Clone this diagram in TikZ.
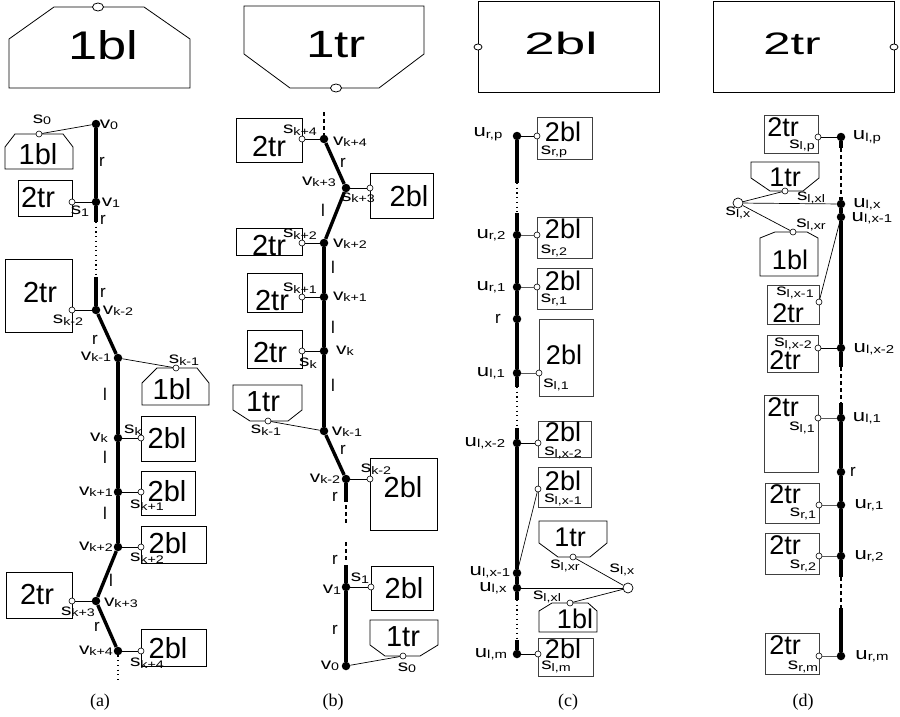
\documentclass[tikz,border=0pt]{standalone}
\usepackage{fontspec}
\setmainfont{Liberation Sans}
\newfontfamily\capfont{Liberation Serif}
\usetikzlibrary{shapes.geometric}
\newcommand\sx[2]{\scalebox{#1}[1]{#2}}
\newcommand\lb[2]{\sx{1.3}{{\fontsize{16}{16}\selectfont #1}{\fontsize{11}{11}\selectfont\raisebox{-1.5pt}{#2}}}}
\newcommand\lbu[2]{\sx{1.3}{{\fontsize{17}{17}\selectfont #1}{\fontsize{11.5}{11.5}\selectfont\raisebox{-1.5pt}{#2}}}}
\begin{document}
\begin{tikzpicture}[x=1pt,y=-1pt,
  dot/.style={circle,fill=black,inner sep=0pt,minimum size=8.5pt},
  port/.style={circle,draw,fill=white,inner sep=0pt,minimum size=6pt,line width=0.6pt},
  bport/.style={circle,draw,fill=white,inner sep=0pt,minimum size=10pt,line width=0.7pt},
  tport/.style={ellipse,draw,fill=white,inner sep=0pt,minimum width=11pt,minimum height=8pt,line width=0.8pt},
  ax/.style={line width=3.4pt},
  cn/.style={line width=0.7pt},
  gcn/.style={line width=0.8pt,black!65},
  shp/.style={line width=0.8pt},
  gshp/.style={line width=0.8pt,black!75},
  dotl/.style={line width=1.2pt,dash pattern=on 1.2pt off 3.5pt},
  dashl/.style={line width=1.2pt,dash pattern=on 4pt off 3pt},
  txa/.style={font=\fontsize{29}{29}\selectfont,inner sep=0pt},
  txc/.style={font=\fontsize{27}{27}\selectfont,inner sep=0pt},
  lab/.style={inner sep=0pt},
  rl/.style={font=\fontsize{17}{17}\selectfont,inner sep=0pt},
  captxt/.style={font=\capfont\fontsize{18}{18}\selectfont,inner sep=0pt}
]
\fill[white] (0,0) rectangle (900,717);
\useasboundingbox (0,0) rectangle (900,717);

% ---------------- top row ----------------
\draw[shp] (9,88) -- (9,39) -- (54,7) -- (144,7) -- (190,39) -- (190,88) -- cycle;
\node[tport] (T1p) at (98,7) {};
\node[inner sep=0pt,font=\fontsize{40}{40}\selectfont] (T1t) at (103,45) {\sx{1.31}{1bl}};
\draw[shp] (244,6) -- (424,6) -- (424,54) -- (379,88) -- (290,88) -- (244,54) -- cycle;
\node[tport] (T2p) at (336,88) {};
\node[inner sep=0pt,font=\fontsize{38}{38}\selectfont] (T2t) at (336,45) {\sx{1.35}{1tr}};
\draw[shp] (478,1) rectangle (659,92);
\node[tport,minimum width=8pt,minimum height=6pt] (T3p) at (478,47) {};
\node[inner sep=0pt,font=\fontsize{31}{31}\selectfont] (T3t) at (561,43) {\sx{1.77}{2bl}};
\draw[shp] (713,1) rectangle (894,92);
\node[tport,minimum width=8pt,minimum height=6pt] (T4p) at (894,47) {};
\node[inner sep=0pt,font=\fontsize{31}{31}\selectfont] (T4t) at (792,44) {\sx{1.58}{2tr}};

% ---------------- column (a) ----------------
\node[dot] (a0) at (96,124) {};
\node[dot] (a1) at (96,202) {};
\coordinate (a1e) at (96,222);
\coordinate (a2s) at (96,277);
\node[dot] (ak2) at (96,310) {};
\node[dot] (ak1) at (118,358) {};
\node[dot] (ak) at (118,438) {};
\node[dot] (akp1) at (118,492) {};
\node[dot] (akp2) at (118,547) {};
\node[dot] (akp3) at (96,601) {};
\node[dot] (akp4) at (118,651) {};
\coordinate (aend) at (118,680);
\draw[ax] (a0) -- (a1);
\draw[ax] (a1) -- (a1e);
\draw[dotl] (a1e) -- (a2s);
\draw[ax] (a2s) -- (ak2);
\draw[ax] (ak2) -- (ak1);
\draw[ax] (ak1) -- (ak);
\draw[ax] (ak) -- (akp1);
\draw[ax] (akp1) -- (akp2);
\draw[ax] (akp2) -- (akp3);
\draw[ax] (akp3) -- (akp4);
\draw[dotl] (akp4) -- (aend);

% s0 / 1bl
\draw[shp] (5,169) -- (5,147) -- (15,134) -- (63,134) -- (73,147) -- (73,169) -- cycle;
\node[txa] (at0) at (38,154) {1bl};
\node[port] (as0) at (39,134) {};
\draw[cn] (as0) -- (a0);
\node[lab] (ls0) at (42,120) {\lb{s}{0}};
\node[lab] (lv0) at (109,125) {\lb{v}{0}};
\node[rl] (lr1) at (102,162) {r};
% s1 / 2tr
\draw[shp] (18,180) rectangle (72,216);
\node[txa] (at1) at (38,197) {2tr};
\node[port] (as1) at (72,202) {};
\draw[cn] (as1) -- (a1);
\node[lab] (ls1) at (80,211) {\lb{s}{1}};
\node[lab] (lv1) at (111,203) {\lb{v}{1}};
\node[rl] (lr2) at (103,220) {r};
\node[rl] (lr3) at (103,293) {r};
% sk-2 / 2tr
\draw[shp] (5,259) rectangle (72,332);
\node[txa] (atk2) at (40,292) {2tr};
\node[port] (ask2) at (72,310) {};
\draw[cn] (ask2) -- (ak2);
\node[lab] (lsk2) at (68,320) {\lb{s}{k-2}};
\node[lab] (lvk2) at (118,311) {\lb{v}{k-2}};
\node[rl] (lr4) at (95,340) {r};
% sk-1 / 1bl
\node[lab] (lvk1) at (96,357) {\lb{v}{k-1}};
\draw[shp] (142,405) -- (142,383) -- (157,368) -- (197,368) -- (209,383) -- (209,405) -- cycle;
\node[txa] (atk1) at (172,389) {1bl};
\node[port] (ask1) at (176,368) {};
\draw[cn] (ask1) -- (ak1);
\node[lab] (lsk1) at (184,360) {\lb{s}{k-1}};
\node[rl] (ll1) at (105,394) {l};
% sk / 2bl
\node[lab] (lvk) at (99,438) {\lb{v}{k}};
\node[lab] (lsk) at (133,430) {\lb{s}{k}};
\draw[shp] (141,416) rectangle (195,461);
\node[txa] (atk) at (167,438) {2bl};
\node[port] (ask) at (141,438) {};
\draw[cn] (ask) -- (ak);
\node[rl] (ll2) at (105,457) {l};
% sk+1
\node[lab] (lvkp1) at (96,492) {\lb{v}{k+1}};
\draw[shp] (141,471) rectangle (195,515);
\node[txa] (atkp1) at (167,491) {2bl};
\node[port] (askp1) at (141,492) {};
\draw[cn] (askp1) -- (akp1);
\node[lab] (lskp1) at (147,505) {\lb{s}{k+1}};
\node[rl] (ll3) at (105,513) {l};
% sk+2
\node[lab] (lvkp2) at (96,547) {\lb{v}{k+2}};
\draw[shp] (141,526) rectangle (206,563);
\node[txa] (atkp2) at (168,543) {2bl};
\node[port] (askp2) at (141,547) {};
\draw[cn] (askp2) -- (akp2);
\node[lab] (lskp2) at (147,558) {\lb{s}{k+2}};
\node[rl] (ll4) at (111,580) {l};
% sk+3
\node[lab] (lvkp3) at (121,603) {\lb{v}{k+3}};
\draw[shp] (6,572) rectangle (72,618);
\node[txa] (atkp3) at (37,594) {2tr};
\node[port] (askp3) at (72,601) {};
\draw[cn] (askp3) -- (akp3);
\node[lab] (lskp3) at (78,612) {\lb{s}{k+3}};
\node[rl] (lr5) at (97,627) {r};
% sk+4
\node[lab] (lvkp4) at (96,651) {\lb{v}{k+4}};
\draw[shp] (141,629) rectangle (206,666);
\node[txa] (atkp4) at (168,648) {2bl};
\node[port] (askp4) at (141,651) {};
\draw[cn] (askp4) -- (akp4);
\node[lab] (lskp4) at (147,663) {\lb{s}{k+4}};
\node[captxt] (capa) at (100,702) {(a)};

% ---------------- column (b) ----------------
\coordinate (btop) at (324,112);
\node[dot] (bk4) at (324,139) {};
\node[dot] (bk3) at (346,188) {};
\node[dot] (bk2) at (324,243) {};
\node[dot] (bk1) at (324,297) {};
\node[dot] (bk) at (324,351) {};
\node[dot] (bkm1) at (324,431) {};
\node[dot] (bkm2) at (346,479) {};
\coordinate (bm2e) at (346,502);
\coordinate (bd1s) at (346,505);
\coordinate (bd1e) at (346,524);
\coordinate (bd2s) at (346,542);
\coordinate (bd2e) at (346,560);
\coordinate (b1s) at (346,565);
\node[dot] (b1) at (346,587) {};
\node[dot] (b0) at (346,666) {};
\draw[dashl] (btop) -- (bk4);
\draw[ax] (bk4) -- (bk3);
\draw[ax] (bk3) -- (bk2);
\draw[ax] (bk2) -- (bk1);
\draw[ax] (bk1) -- (bk);
\draw[ax] (bk) -- (bkm1);
\draw[ax] (bkm1) -- (bkm2);
\draw[ax] (bkm2) -- (bm2e);
\draw[dashl] (bd1s) -- (bd1e);
\draw[dashl] (bd2s) -- (bd2e);
\draw[ax] (b1s) -- (b1);
\draw[ax] (b1) -- (b0);

% sk+4
\draw[shp] (236,118) rectangle (302,162);
\node[txa] (btk4) at (269,146) {2tr};
\node[port] (bsk4) at (302,139) {};
\draw[cn] (bsk4) -- (bk4);
\node[lab] (blsk4) at (300,130) {\lb{s}{k+4}};
\node[lab] (blvk4) at (350,142) {\lb{v}{k+4}};
\node[rl] (blr1) at (343,163) {r};
% sk+3
\node[lab] (blvk3) at (319,182) {\lb{v}{k+3}};
\draw[shp] (370,173) rectangle (433,218);
\node[txa] (btk3) at (409,196) {2bl};
\node[port] (bsk3) at (370,188) {};
\draw[cn] (bsk3) -- (bk3);
\node[lab] (blsk3) at (358,198) {\lb{s}{k+3}};
\node[rl] (bll1) at (323,210) {l};
% sk+2
\draw[shp] (236,228) rectangle (302,255);
\node[txa] (btk2) at (269,245) {2tr};
\node[port] (bsk2) at (302,243) {};
\draw[cn] (bsk2) -- (bk2);
\node[lab] (blsk2) at (300,234) {\lb{s}{k+2}};
\node[lab] (blvk2) at (350,244) {\lb{v}{k+2}};
\node[rl] (bll2) at (333,267) {l};
% sk+1
\draw[shp] (247,273) rectangle (302,312);
\node[txa] (btk1) at (272,300) {2tr};
\node[port] (bsk1) at (302,297) {};
\draw[cn] (bsk1) -- (bk1);
\node[lab] (blsk1) at (300,288) {\lb{s}{k+1}};
\node[lab] (blvk1) at (350,297) {\lb{v}{k+1}};
\node[rl] (bll3) at (333,327) {l};
% sk
\draw[shp] (247,330) rectangle (302,368);
\node[txa] (btk) at (270,352) {2tr};
\node[port] (bsk) at (302,351) {};
\draw[cn] (bsk) -- (bk);
\node[lab] (blsk) at (308,363) {\lb{s}{k}};
\node[lab] (blvk) at (345,351) {\lb{v}{k}};
\node[rl] (bll4) at (333,385) {l};
% sk-1
\draw[shp] (233,385) -- (302,385) -- (302,410) -- (288,421) -- (250,421) -- (233,410) -- cycle;
\node[txa] (btkm1) at (263,402) {1tr};
\node[port] (bskm1) at (268,421) {};
\draw[cn] (bskm1) -- (bkm1);
\node[lab] (blskm1) at (266,430) {\lb{s}{k-1}};
\node[lab] (blvkm1) at (347,432) {\lb{v}{k-1}};
\node[rl] (blr2) at (343,450) {r};
% sk-2
\node[lab] (blvkm2) at (325,479) {\lb{v}{k-2}};
\draw[shp] (370,458) rectangle (437,530);
\node[txa] (btkm2) at (403,487) {2bl};
\node[port] (bskm2) at (370,479) {};
\draw[cn] (bskm2) -- (bkm2);
\node[lab] (blskm2) at (376,469) {\lb{s}{k-2}};
\node[rl] (blr3) at (335,497) {r};
\node[rl] (blr4) at (335,560) {r};
% s1
\node[lab] (blv1) at (332,590) {\lb{v}{1}};
\node[lab] (bls1) at (360,578) {\lb{s}{1}};
\draw[shp] (371,566) rectangle (433,610);
\node[txa] (bt1) at (404,588) {2bl};
\node[port] (bs1) at (371,587) {};
\draw[cn] (bs1) -- (b1);
\node[rl] (blr5) at (335,630) {r};
% s0
\node[lab] (blv0) at (330,666) {\lb{v}{0}};
\draw[shp] (370,620) -- (438,620) -- (438,645) -- (420,656) -- (385,656) -- (370,645) -- cycle;
\node[txa] (bt0) at (403,637) {1tr};
\node[port] (bs0) at (403,656) {};
\draw[cn] (bs0) -- (b0);
\node[lab] (bls0) at (407,668) {\lb{s}{0}};
\node[captxt] (capb) at (333,702) {(b)};

% ---------------- column (c) ----------------
\node[dot] (cp) at (517,136) {};
\node[dot] (c2) at (517,235) {};
\node[dot] (c1) at (517,287) {};
\node[dot] (cr) at (517,319) {};
\node[dot] (cl1) at (517,373) {};
\node[dot] (clx2) at (517,443) {};
\node[dot] (clx1) at (517,573) {};
\node[dot] (clx) at (517,588) {};
\node[dot] (clm) at (517,654) {};
\coordinate (cpe) at (517,183);
\coordinate (c2s) at (517,213);
\coordinate (cl1e) at (517,387);
\coordinate (clx2s) at (517,428);
\coordinate (clxe) at (517,600);
\coordinate (clms) at (517,640);
\draw[ax] (cp) -- (cpe);
\draw[dotl] (cpe) -- (c2s);
\draw[ax] (c2s) -- (c2);
\draw[ax] (c2) -- (c1);
\draw[ax] (c1) -- (cr);
\draw[ax] (cr) -- (cl1);
\draw[ax] (cl1) -- (cl1e);
\draw[dotl] (cl1e) -- (clx2s);
\draw[ax] (clx2s) -- (clx2);
\draw[ax] (clx2) -- (clx1);
\draw[ax] (clx1) -- (clx);
\draw[ax] (clx) -- (clxe);
\draw[dotl] (clxe) -- (clms);
\draw[ax] (clms) -- (clm);

% u r,p
\node[lab] (clp) at (488,134) {\lbu{u}{r,p}};
\draw[gshp] (537,117) rectangle (592,159);
\node[txc] (ctp) at (563,132) {2bl};
\node[lab] (clsp) at (554,152) {\lb{s}{r,p}};
\node[port] (csp) at (537,136) {};
\draw[cn] (csp) -- (cp);
% u r,2
\node[lab] (clu2) at (491,235) {\lbu{u}{r,2}};
\draw[gshp] (537,217) rectangle (592,258);
\node[txc] (ct2) at (563,229) {2bl};
\node[lab] (cls2) at (554,251) {\lb{s}{r,2}};
\node[port] (cs2) at (537,235) {};
\draw[gcn] (cs2) -- (c2);
% u r,1
\node[lab] (clu1) at (491,287) {\lbu{u}{r,1}};
\draw[gshp] (537,268) rectangle (592,309);
\node[txc] (ct1) at (563,281) {2bl};
\node[lab] (cls1) at (554,300) {\lb{s}{r,1}};
\node[port] (cs1) at (537,287) {};
\draw[gcn] (cs1) -- (c1);
\node[rl] (clr) at (498,319) {r};
% u l,1
\node[lab] (clul1) at (491,373) {\lbu{u}{l,1}};
\draw[gshp] (539,319) rectangle (593,396);
\node[txc] (ctl1) at (564,355) {2bl};
\node[lab] (clsl1) at (556,385) {\lb{s}{l,1}};
\node[port] (csl1) at (539,373) {};
\draw[gcn] (csl1) -- (cl1);
% u l,x-2
\node[lab] (clulx2) at (485,443) {\lbu{u}{l,x-2}};
\draw[gshp] (538,421) rectangle (591,457);
\node[txc] (ctlx2) at (563,432) {2bl};
\node[lab] (clslx2) at (563,453) {\lb{s}{l,x-2}};
\node[port] (cslx2) at (538,443) {};
\draw[cn] (cslx2) -- (clx2);
% u l,x-1
\draw[gshp] (538,467) rectangle (591,507);
\node[txc] (ctlx1) at (563,481) {2bl};
\node[lab] (clslx1) at (563,500) {\lb{s}{l,x-1}};
\node[port] (cslx1) at (538,489) {};
\draw[cn] (cslx1) -- (clx1);
\node[lab] (clulx1) at (490,572) {\lbu{u}{l,x-1}};
% u l,x
\node[lab] (clulx) at (493,588) {\lbu{u}{l,x}};
\node[bport] (cslx) at (628,588) {};
\draw[cn] (clx) -- (cslx);
\node[lab] (clslx) at (622,570) {\lb{s}{l,x}};
\draw[shp] (539,521) -- (607,521) -- (607,543) -- (590,557) -- (558,557) -- (539,543) -- cycle;
\node[txc] (ctxr) at (570,537) {1tr};
\node[port] (csxr) at (573,557) {};
\draw[cn] (csxr) -- (cslx);
\node[lab] (clsxr) at (565,566) {\lb{s}{l,xr}};
\draw[shp] (539,632) -- (539,611) -- (552,603) -- (588,603) -- (597,611) -- (597,632) -- cycle;
\node[txc] (ctxl) at (575,619) {1bl};
\node[port] (csxl) at (570,603) {};
\draw[cn] (csxl) -- (cslx);
\node[lab] (clsxl) at (547,597) {\lb{s}{l,xl}};
% u l,m
\node[lab] (clulm) at (491,654) {\lbu{u}{l,m}};
\draw[gshp] (538,638) rectangle (593,676);
\node[txc] (ctm) at (563,649) {2bl};
\node[lab] (clsm) at (556,667) {\lb{s}{l,m}};
\node[port] (csm) at (538,654) {};
\draw[cn] (csm) -- (clm);
\node[captxt] (capc) at (568,702) {(c)};

% ---------------- column (d) ----------------
\node[dot] (dlp) at (841,137) {};
\node[dot] (dlx) at (841,204) {};
\node[dot] (dlx1) at (841,217) {};
\node[dot] (dlx2) at (841,348) {};
\node[dot] (dl1) at (841,418) {};
\node[dot] (dr) at (841,472) {};
\node[dot] (dr1) at (841,505) {};
\node[dot] (dr2) at (841,556) {};
\node[dot] (drm) at (841,656) {};
\coordinate (dlpe) at (841,148);
\coordinate (dlxs) at (841,197);
\coordinate (dlx2e) at (841,367);
\coordinate (dl1s) at (841,403);
\coordinate (dr2e) at (841,577);
\coordinate (drms) at (841,608);
\draw[ax] (dlp) -- (dlpe);
\draw[dashl] (dlpe) -- (dlxs);
\draw[ax] (dlxs) -- (dlx);
\draw[ax] (dlx) -- (dlx1);
\draw[ax] (dlx1) -- (dlx2);
\draw[ax] (dlx2) -- (dlx2e);
\draw[dashl] (dlx2e) -- (dl1s);
\draw[ax] (dl1s) -- (dl1);
\draw[ax] (dl1) -- (dr);
\draw[ax] (dr) -- (dr1);
\draw[ax] (dr1) -- (dr2);
\draw[ax] (dr2) -- (dr2e);
\draw[dashl] (dr2e) -- (drms);
\draw[ax] (drms) -- (drm);

% l,p
\draw[gshp] (764,115) rectangle (818,153);
\node[txc] (dtp) at (783,127) {2tr};
\node[lab] (dlsp) at (802,146) {\lb{s}{l,p}};
\node[port] (dsp) at (818,137) {};
\draw[cn] (dsp) -- (dlp);
\node[lab] (dlup) at (867,137) {\lbu{u}{l,p}};
% l,x
\node[lab] (dlux) at (867,204) {\lbu{u}{l,x}};
\node[bport] (dslx) at (738,203) {};
\draw[cn] (dlx) -- (dslx);
\node[lab] (dlslx) at (738,213) {\lb{s}{l,x}};
\draw[shp] (751,162) -- (819,162) -- (819,178) -- (803,191) -- (770,191) -- (751,178) -- cycle;
\node[txc] (dtxl) at (785,177) {1tr};
\node[port] (dsxl) at (785,191) {};
\draw[cn] (dsxl) -- (dslx);
\node[lab] (dlsxl) at (811,198) {\lb{s}{l,xl}};
\draw[shp] (760,276) -- (760,238) -- (775,232) -- (807,232) -- (818,238) -- (818,276) -- cycle;
\node[txc] (dtxr) at (790,260) {1bl};
\node[port] (dsxr) at (793,232) {};
\draw[cn] (dsxr) -- (dslx);
\node[lab] (dlsxr) at (811,225) {\lb{s}{l,xr}};
\node[lab] (dlux1) at (872,218) {\lbu{u}{l,x-1}};
% l,x-1
\draw[gshp] (767,285) rectangle (819,324);
\node[lab] (dlsx1) at (795,293) {\lb{s}{l,x-1}};
\node[txc] (dtx1) at (788,313) {2tr};
\node[port] (dsx1) at (819,302) {};
\draw[cn] (dsx1) -- (dlx1);
% l,x-2
\draw[gshp] (767,335) rectangle (818,372);
\node[lab] (dlsx2) at (793,344) {\lb{s}{l,x-2}};
\node[txc] (dtx2) at (785,360) {2tr};
\node[port] (dsx2) at (818,348) {};
\draw[cn] (dsx2) -- (dlx2);
\node[lab] (dlux2) at (874,349) {\lbu{u}{l,x-2}};
% l,1
\draw[gshp] (764,395) rectangle (818,472);
\node[txc] (dtl1) at (783,407) {2tr};
\node[lab] (dlsl1) at (802,428) {\lb{s}{l,1}};
\node[port] (dsl1) at (818,418) {};
\draw[gcn] (dsl1) -- (dl1);
\node[lab] (dlul1) at (867,418) {\lbu{u}{l,1}};
\node[rl] (dlr) at (853,472) {r};
% r,1
\draw[gshp] (765,483) rectangle (819,523);
\node[txc] (dtr1) at (785,494) {2tr};
\node[lab] (dlsr1) at (803,514) {\lb{s}{r,1}};
\node[port] (dsr1) at (819,505) {};
\draw[gcn] (dsr1) -- (dr1);
\node[lab] (dlur1) at (869,505) {\lbu{u}{r,1}};
% r,2
\draw[gshp] (765,533) rectangle (819,574);
\node[txc] (dtr2) at (785,545) {2tr};
\node[lab] (dlsr2) at (803,566) {\lb{s}{r,2}};
\node[port] (dsr2) at (819,556) {};
\draw[gcn] (dsr2) -- (dr2);
\node[lab] (dlur2) at (869,556) {\lbu{u}{r,2}};
% r,m
\draw[gshp] (765,633) rectangle (819,674);
\node[txc] (dtrm) at (785,645) {2tr};
\node[lab] (dlsrm) at (803,667) {\lb{s}{r,m}};
\node[port] (dsrm) at (819,656) {};
\draw[gcn] (dsrm) -- (drm);
\node[lab] (dlurm) at (872,656) {\lbu{u}{r,m}};
\node[captxt] (capd) at (803,702) {(d)};
\end{tikzpicture}
\end{document}
